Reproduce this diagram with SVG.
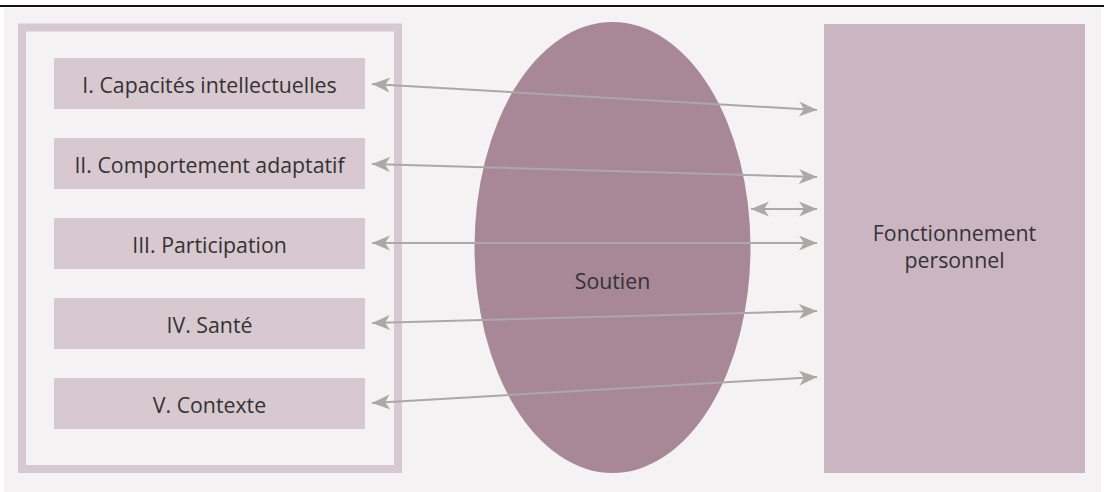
<svg xmlns="http://www.w3.org/2000/svg" width="1104" height="492" viewBox="0 0 1104 492">
<style>
.lbl{font-family:"Open Sans","Liberation Sans",sans-serif;font-size:21.3px;fill:#333333;text-anchor:middle}
.box{fill:#d8c8cf}
.con{stroke:#a9a9a7;stroke-width:2;fill:none;marker-start:url(#ah);marker-end:url(#ah)}
</style>
<defs>
<marker id="ah" markerUnits="userSpaceOnUse" markerWidth="20" markerHeight="16" refX="18" refY="7.5" orient="auto-start-reverse" viewBox="0 0 20 16">
<path d="M0,0 L18,7.5 L0,15 L5,7.5 Z" fill="#a9a9a7"/>
</marker>
</defs>
<rect x="0" y="0" width="1104" height="492" fill="#ffffff"/>
<rect x="4" y="8" width="1097" height="484" fill="#f4f2f3"/>
<line x1="0" y1="6" x2="1104" y2="6" stroke="#111111" stroke-width="2"/>
<g id="frame">
<rect x="22" y="27.5" width="376" height="441.5" fill="none" stroke="#d8c8cf" stroke-width="8"/>
</g>
<g id="soutien">
<ellipse cx="612.5" cy="247.5" rx="138" ry="225.5" fill="#a88897"/>
<text class="lbl" x="612.5" y="289">Soutien</text>
</g>
<g id="fonctionnement">
<rect x="824" y="24" width="261" height="449" fill="#cbb5c3"/>
<text class="lbl" x="954.5" y="241">Fonctionnement</text>
<text class="lbl" x="954.5" y="268">personnel</text>
</g>
<g id="n1"><rect class="box" x="54" y="58" width="311" height="51"/><text class="lbl" x="209.5" y="93">I. Capacités intellectuelles</text></g>
<g id="n2"><rect class="box" x="54" y="138" width="311" height="51"/><text class="lbl" x="209.5" y="173">II. Comportement adaptatif</text></g>
<g id="n3"><rect class="box" x="54" y="218" width="311" height="51"/><text class="lbl" x="209.5" y="253">III. Participation</text></g>
<g id="n4"><rect class="box" x="54" y="298" width="311" height="51"/><text class="lbl" x="209.5" y="333">IV. Santé</text></g>
<g id="n5"><rect class="box" x="54" y="378" width="311" height="51"/><text class="lbl" x="209.5" y="413">V. Contexte</text></g>
<g id="connectors">
<line class="con" x1="372" y1="84" x2="817" y2="110"/>
<line class="con" x1="372" y1="164" x2="817" y2="177"/>
<line class="con" x1="751" y1="209" x2="817" y2="209"/>
<line class="con" x1="372" y1="243" x2="817" y2="243"/>
<line class="con" x1="372" y1="323" x2="817" y2="311"/>
<line class="con" x1="372" y1="403" x2="817" y2="377"/>
</g>
</svg>
